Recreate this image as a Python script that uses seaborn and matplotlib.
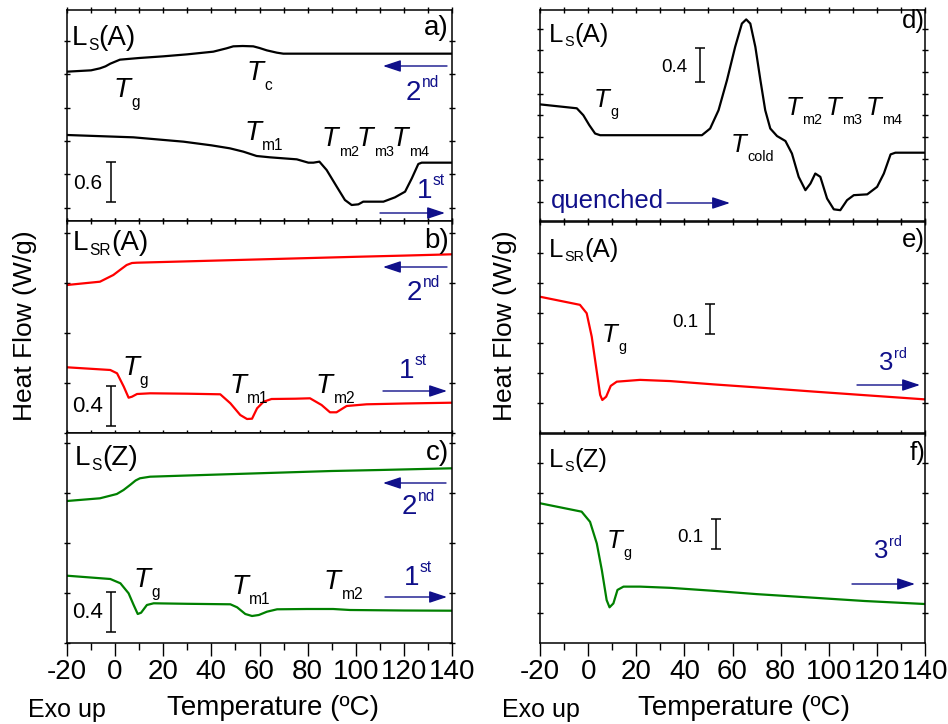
import numpy as np
import pandas as pd
import matplotlib
matplotlib.use("Agg")
import matplotlib.pyplot as plt
import seaborn as sns
from matplotlib.ticker import MultipleLocator, FixedLocator
from matplotlib.patches import FancyArrowPatch

# ---------------- data (temperature in degC, heat flow in W/g, relative offsets) -------------
# panel a) L_S(A)
a2_T = [-20, -10, -6.3, -4, -2, 0, 2, 10, 20, 30, 40.8, 46.3, 49.1, 53, 57.4, 60, 63, 67.2, 69.9, 80, 100, 120, 140]
a2_HF = [2.24, 2.26, 2.29, 2.32, 2.36, 2.39, 2.42, 2.445, 2.47, 2.50, 2.54, 2.59, 2.62, 2.625, 2.62, 2.595, 2.56, 2.525, 2.51, 2.51, 2.51, 2.51, 2.51]
a1_T = [-20, 7.6, 28.4, 40, 47.7, 53.3, 58.8, 64.4, 75.5, 80.3, 82.4, 84.9, 87.9, 92.1, 95.5, 98.3, 101.1, 103.1,
        111.5, 116.3, 120.5, 123.3, 126, 127.4, 140]
a1_HF = [1.29, 1.255, 1.19, 1.135, 1.09, 1.04, 0.975, 0.955, 0.925, 0.875, 0.875, 0.89, 0.765, 0.515, 0.315, 0.24, 0.25, 0.29,
         0.29, 0.355, 0.44, 0.64, 0.855, 0.875, 0.875]
# panel b) L_SR(A)
b2_T = [-20, -6.3, -0.75, 2, 4.8, 7, 9, 20, 40, 60, 80, 100, 120, 140]
b2_HF = [1.48, 1.513, 1.58, 1.63, 1.68, 1.70, 1.703, 1.71, 1.723, 1.736, 1.749, 1.762, 1.774, 1.787]
b1_T = [-20, -2, 0.8, 3.6, 5.6, 7, 9.1, 14.6, 30, 43.7, 47.9, 52, 54.8, 56.9, 59, 61.7, 65, 75, 81, 85.8, 89.3, 92,
        96.2, 104.5, 120, 140]
b1_HF = [0.657, 0.63, 0.597, 0.463, 0.353, 0.363, 0.39, 0.397, 0.393, 0.387, 0.297, 0.18, 0.14, 0.143, 0.247, 0.313,
         0.34, 0.343, 0.347, 0.28, 0.207, 0.207, 0.27, 0.287, 0.295, 0.303]
# panel c) L_S(Z)
c2_T = [-20, -6.3, 0.7, 3.5, 6.2, 8.5, 10.3, 14.5, 30, 50, 70, 90, 110, 140]
c2_HF = [1.42, 1.447, 1.49, 1.53, 1.58, 1.625, 1.647, 1.663, 1.675, 1.69, 1.705, 1.72, 1.73, 1.747]
c1_T = [-20, -2, 2.2, 5.6, 7.7, 9.4, 10.8, 13.2, 16, 30, 47.9, 50.7, 54.1, 56.9, 59.7, 63.1, 67.3, 79.8, 90.6, 97.6, 120, 140]
c1_HF = [0.673, 0.64, 0.597, 0.497, 0.38, 0.29, 0.303, 0.38, 0.397, 0.392, 0.387, 0.357, 0.29, 0.27, 0.28, 0.313,
         0.337, 0.34, 0.34, 0.33, 0.325, 0.323]
# panel d) L_S(A) quenched
d_T = [-20, -4.7, -2, 0.5, 2.9, 5, 24.4, 42.4, 47.3, 50.7, 54.2, 57.7, 61.1, 63.9, 65.7, 67.4, 69.5, 71.6, 73.6, 75.7,
       78.5, 82, 84.7, 87.5, 90.3, 92.4, 94.4, 96.5, 99.3, 102.1, 104.8, 107.6, 110.4, 116, 120.1, 122.9, 125.7, 127.7, 140]
d_HF = [1.40, 1.353, 1.27, 1.15, 1.05, 1.03, 1.03, 1.03, 1.03, 1.11, 1.33, 1.69, 2.09, 2.37, 2.42, 2.37, 2.09, 1.69,
        1.33, 1.11, 1.02, 0.96, 0.81, 0.53, 0.37, 0.45, 0.57, 0.53, 0.27, 0.14, 0.13, 0.25, 0.31, 0.32, 0.41, 0.57,
        0.80, 0.82, 0.82]
# panel e) L_SR(A) 3rd
e_T = [-20, -3.4, -0.6, 1.5, 3.3, 5, 5.9, 7.5, 9.4, 11.9, 21.6, 34.1, 52.1, 70, 93.7, 115, 140]
e_HF = [0.454, 0.427, 0.399, 0.321, 0.221, 0.127, 0.11, 0.121, 0.157, 0.171, 0.177, 0.173, 0.162, 0.152, 0.138, 0.126, 0.112]
# panel f) L_S(Z) 3rd
f_T = [-20, -2.7, 0.8, 3.6, 5.7, 7.7, 8.9, 10.5, 12.2, 14.7, 21.6, 34.1, 52.1, 70, 93.7, 115, 140]
f_HF = [0.466, 0.438, 0.404, 0.332, 0.243, 0.143, 0.119, 0.132, 0.177, 0.188, 0.188, 0.184, 0.174, 0.163, 0.151, 0.14, 0.13]

scale_bars = [0.6, 0.4, 0.4, 0.4, 0.1, 0.1]      # W/g
x_ticks = [-20, 0, 20, 40, 60, 80, 100, 120, 140]

# ---------------- style ----------------
sns.set_style("ticks")
plt.rcParams.update({
    "font.family": ["Liberation Sans", "DejaVu Sans"],
    "axes.unicode_minus": False,
    "axes.edgecolor": "black",
    "axes.linewidth": 1.1,
    "xtick.color": "black",
    "ytick.color": "black",
    "text.color": "black",
})

NAVY = "#10108a"
RED = "#ff0000"
GREEN = "#008000"
W, H = 948, 724
fig = plt.figure(figsize=(W / 100, H / 100), dpi=100)
RENDERER = fig.canvas.get_renderer()


def add_panel(x0, y0, x1, y1):
    return fig.add_axes([x0 / W, 1 - y1 / H, (x1 - x0) / W, (y1 - y0) / H])


def ptext(x, y, s, size=20, color="black", ha="left", va="baseline", **kw):
    return fig.text(x / W, 1 - y / H, s, fontsize=size, color=color, ha=ha, va=va, **kw)


def rich(x, y, parts, size=20, sub=0.56, color="black"):
    """Text made of pieces: 'n' normal, 'it' italic, 'sub', 'lsub' (shallow sub), 'sup'."""
    em = size * 100 / 72
    cx = x
    for txt, kind in parts:
        fs, dy, st = size, 0.0, "normal"
        if kind == "it":
            st = "italic"
        elif kind == "sub":
            fs, dy = size * sub, 0.36 * em
        elif kind == "lsub":
            fs, dy = size * sub, 0.17 * em
        elif kind == "sup":
            fs, dy = size * sub, -0.46 * em
        t = ptext(cx, y + dy, txt, size=fs, color=color, fontstyle=st)
        cx = t.get_window_extent(renderer=RENDERER).x1 + 0.5


def T_label(x, y, sub, size=20, subr=0.56):
    rich(x, y, [("T", "it"), (sub, "sub")], size=size, sub=subr)


def parrow(x_tail, x_head, y):
    fig.add_artist(FancyArrowPatch((x_tail / W, 1 - y / H), (x_head / W, 1 - y / H),
                                   transform=fig.transFigure,
                                   arrowstyle="-|>,head_length=0.9,head_width=0.3",
                                   mutation_scale=12, color=NAVY, lw=1.0,
                                   shrinkA=0, shrinkB=0))


def curve(ax, T, HF, color):
    df = pd.DataFrame({"T": T, "HF": HF})
    sns.lineplot(data=df, x="T", y="HF", ax=ax, color=color, lw=1.6,
                 estimator=None, sort=False, legend=False)


def style(ax, ylim, yticks, bottom):
    ax.set_xlim(-20, 140)
    ax.set_ylim(*ylim)
    ax.set_xlabel("")
    ax.set_ylabel("")
    ax.xaxis.set_major_locator(FixedLocator(x_ticks))
    ax.xaxis.set_minor_locator(MultipleLocator(10))
    ax.yaxis.set_major_locator(FixedLocator(yticks))
    ax.tick_params(axis="y", which="both", direction="inout", left=True, right=True,
                   labelleft=False, length=5, width=1.0)
    if bottom:
        ax.tick_params(axis="x", which="major", direction="out", top=False, bottom=True,
                       length=9, width=1.0, labelsize=20, pad=2.5)
        ax.tick_params(axis="x", which="minor", direction="out", top=False, bottom=True,
                       length=5, width=1.0)
    else:
        ax.tick_params(axis="x", which="both", direction="inout", top=True, bottom=True,
                       labelbottom=False, length=5, width=1.0)


def scale_bar(ax, T, y0, length):
    ax.errorbar([T], [y0 + length / 2], yerr=[length / 2], fmt="none", ecolor="black",
                elinewidth=1.1, capsize=3.3, capthick=1.1)


# ---------------- left column ----------------
ax_a = add_panel(67, 10, 452, 221)
curve(ax_a, a2_T, a2_HF, "black")
curve(ax_a, a1_T, a1_HF, "black")
style(ax_a, (0, 3.165), np.arange(0.2, 3.1, 0.5), False)
scale_bar(ax_a, -1.7, 0.285, scale_bars[0])

ax_b = add_panel(67, 221, 452, 433)
curve(ax_b, b2_T, b2_HF, RED)
curve(ax_b, b1_T, b1_HF, RED)
style(ax_b, (0, 2.12), np.arange(0.0, 2.1, 0.5), False)
scale_bar(ax_b, -1.7, 0.073, scale_bars[1])

ax_c = add_panel(67, 433, 452, 643)
curve(ax_c, c2_T, c2_HF, GREEN)
curve(ax_c, c1_T, c1_HF, GREEN)
style(ax_c, (0, 2.10), np.arange(0.0, 2.1, 0.5), True)
scale_bar(ax_c, -1.7, 0.113, scale_bars[2])

# ---------------- right column ----------------
ax_d = add_panel(540, 10, 925, 221)
curve(ax_d, d_T, d_HF, "black")
style(ax_d, (0, 2.533), np.arange(0.23, 2.5, 0.26), False)
scale_bar(ax_d, 46.3, 1.672, scale_bars[3])

ax_e = add_panel(540, 222, 925, 433)
curve(ax_e, e_T, e_HF, RED)
style(ax_e, (0, 0.703), np.arange(0.1, 0.7, 0.1), False)
scale_bar(ax_e, 50.7, 0.329, scale_bars[4])

ax_f = add_panel(540, 434, 925, 643)
curve(ax_f, f_T, f_HF, GREEN)
style(ax_f, (0, 0.697), np.arange(0.1, 0.7, 0.1), True)
scale_bar(ax_f, 53.2, 0.312, scale_bars[5])

# ---------------- annotations: left ----------------
# a)
rich(72, 45, [("L", "n"), ("S", "lsub"), ("(A)", "n")])
ptext(449, 35, "a)", ha="right")
T_label(114, 97, "g")
T_label(247, 80, "c")
T_label(244, 140, "m1")
T_label(322, 146, "m2", size=19.5, subr=0.53)
T_label(357, 146, "m3", size=19.5, subr=0.53)
T_label(392, 146, "m4", size=19.5, subr=0.53)
rich(406, 100, [("2", "n"), ("nd", "sup")], color=NAVY)
parrow(447, 383, 66)
ptext(73, 189, f"{scale_bars[0]:.1f}", size=15)
rich(417, 198, [("1", "n"), ("st", "sup")], color=NAVY)
parrow(380, 445, 213)
# b)
rich(73, 250, [("L", "n"), ("SR", "lsub"), ("(A)", "n")])
ptext(449, 248, "b)", ha="right")
parrow(447, 383, 267)
rich(407, 300, [("2", "n"), ("nd", "sup")], color=NAVY)
T_label(122, 375, "g")
T_label(229, 393, "m1")
T_label(316, 393, "m2")
rich(399, 378, [("1", "n"), ("st", "sup")], color=NAVY)
parrow(383, 447, 391)
ptext(72, 412, f"{scale_bars[1]:.1f}", size=16)
# c)
rich(75, 465, [("L", "n"), ("S", "lsub"), ("(Z)", "n")])
ptext(449, 460, "c)", ha="right")
parrow(446, 383, 483)
rich(402, 514, [("2", "n"), ("nd", "sup")], color=NAVY)
T_label(134, 587, "g")
T_label(231, 594, "m1")
T_label(324, 589, "m2")
rich(404, 585, [("1", "n"), ("st", "sup")], color=NAVY)
parrow(385, 447, 597)
ptext(72, 618, f"{scale_bars[2]:.1f}", size=16)

# ---------------- annotations: right ----------------
RS = 18.5
# d)
rich(549, 42, [("L", "n"), ("S", "lsub"), ("(A)", "n")], size=RS)
ptext(925, 28, "d)", ha="right", size=RS)
ptext(661, 72, f"{scale_bars[3]:.1f}", size=13.5)
T_label(594, 107, "g", size=RS)
T_label(731, 152, "cold", size=RS)
T_label(786, 115, "m2", size=RS)
T_label(826, 115, "m3", size=RS)
T_label(866, 115, "m4", size=RS)
ptext(551, 208, "quenched", color=NAVY, size=RS)
parrow(667, 730, 203)
# e)
rich(549, 257, [("L", "n"), ("SR", "lsub"), ("(A)", "n")], size=RS)
ptext(925, 247, "e)", ha="right", size=RS)
T_label(602, 342, "g", size=RS)
ptext(672, 327, f"{scale_bars[4]:.1f}", size=13.5)
rich(879, 370, [("3", "n"), ("rd", "sup")], size=RS, color=NAVY)
parrow(857, 920, 385)
# f)
rich(549, 467, [("L", "n"), ("S", "lsub"), ("(Z)", "n")], size=RS)
ptext(925, 460, "f)", ha="right", size=RS)
T_label(607, 548, "g", size=RS)
ptext(677, 542, f"{scale_bars[5]:.1f}", size=13.5)
rich(874, 558, [("3", "n"), ("rd", "sup")], size=RS, color=NAVY)
parrow(852, 915, 584)

# ---------------- axis titles ----------------
ptext(25, 326, "Heat Flow (W/g)", size=19, ha="center", va="center", rotation=90)
ptext(505, 326, "Heat Flow (W/g)", size=19, ha="center", va="center", rotation=90)
ptext(167, 715, "Temperature (\u00baC)", size=20)
ptext(638, 715, "Temperature (\u00baC)", size=20)
ptext(28, 717, "Exo up", size=18)
ptext(502, 717, "Exo up", size=18)

fig.savefig("out.png", dpi=100, facecolor="white")
